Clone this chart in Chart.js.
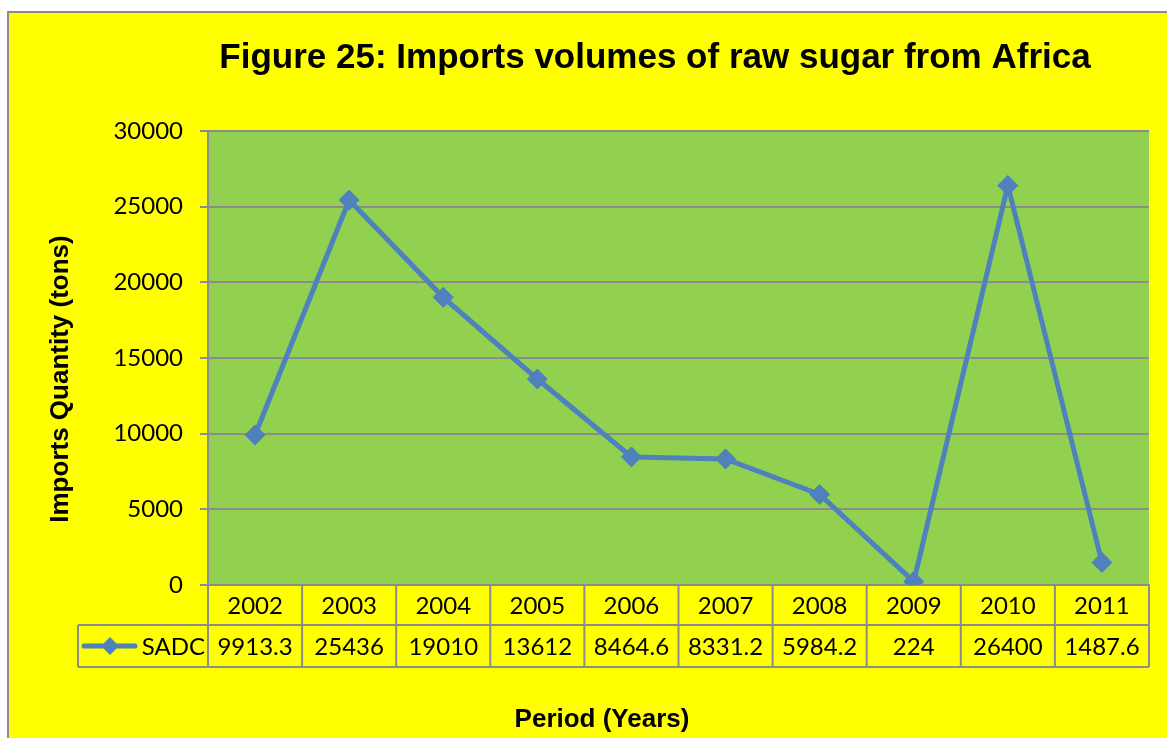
<!DOCTYPE html>
<html lang="en">
<head>
  <meta charset="UTF-8" />
  <title>Imports volumes of raw sugar from Africa</title>
  <script src="https://cdn.jsdelivr.net/npm/chart.js"></script>
  <style>
    html, body { margin: 0; padding: 0; background: #ffffff; overflow: hidden; }
    .frame {
      position: absolute; left: 7px; top: 11px;
      width: 1200px; height: 800px;
      background: #ffff00;
      border: 2px solid #8c8c8c;
    }
    #importsChart { position: absolute; left: 0; top: 0; }
  </style>
</head>
<body>
  <div class="frame"></div>
  <canvas id="importsChart" width="1167" height="738"></canvas>

  <script>
    // Data
    const years = ["2002", "2003", "2004", "2005", "2006", "2007", "2008", "2009", "2010", "2011"];
    const sadc = [9913.3, 25436, 19010, 13612, 8464.6, 8331.2, 5984.2, 224, 26400, 1487.6];
    const sadcLabels = ["9913.3", "25436", "19010", "13612", "8464.6", "8331.2", "5984.2", "224", "26400", "1487.6"];
    const seriesName = "SADC";

    const chartTitle = "Figure 25: Imports volumes of raw sugar from Africa";
    const yTitle = "Imports Quantity (tons)";
    const xTitle = "Period (Years)";

    const lineColor = "#4f81bd";
    const gridColor = "#8c8c8c";
    const tableFont = "24px Lato";

    // green plot background
    const plotBg = {
      id: "plotBg",
      beforeDraw(chart) {
        const { ctx, chartArea: a } = chart;
        ctx.save();
        ctx.fillStyle = "#92d050";
        ctx.fillRect(a.left, a.top, a.right - a.left, a.bottom - a.top);
        ctx.restore();
      }
    };

    // titles + data table under the x axis (Excel style)
    const dataTable = {
      id: "dataTable",
      afterDraw(chart) {
        const { ctx, chartArea: a } = chart;
        const x = chart.scales.x;
        const step = x.getPixelForValue(1) - x.getPixelForValue(0);
        const row1 = a.bottom + 40;
        const row2 = row1 + 42;
        const keyLeft = 78;

        ctx.save();
        // grid lines of the table
        ctx.strokeStyle = gridColor;
        ctx.lineWidth = 2;
        ctx.beginPath();
        ctx.moveTo(keyLeft, row1); ctx.lineTo(a.right, row1);
        ctx.moveTo(keyLeft, row2); ctx.lineTo(a.right, row2);
        ctx.moveTo(keyLeft, row1); ctx.lineTo(keyLeft, row2);
        for (let i = 0; i <= years.length; i++) {
          const bx = x.getPixelForValue(i) - step / 2;
          ctx.moveTo(bx, a.bottom); ctx.lineTo(bx, row2);
        }
        ctx.stroke();

        // cell text
        ctx.fillStyle = "#000";
        ctx.font = tableFont;
        ctx.textAlign = "center";
        ctx.textBaseline = "middle";
        years.forEach((yr, i) => {
          const cx = x.getPixelForValue(i);
          ctx.fillText(yr, cx, (a.bottom + row1) / 2 + 1);
          ctx.fillText(sadcLabels[i], cx, (row1 + row2) / 2 + 1);
        });

        // legend key
        const ky = (row1 + row2) / 2;
        ctx.strokeStyle = lineColor;
        ctx.lineWidth = 5;
        ctx.lineCap = "round";
        ctx.beginPath();
        ctx.moveTo(84, ky); ctx.lineTo(135, ky);
        ctx.stroke();
        ctx.fillStyle = lineColor;
        ctx.beginPath();
        ctx.moveTo(110 - 9, ky); ctx.lineTo(110, ky - 9);
        ctx.lineTo(110 + 9, ky); ctx.lineTo(110, ky + 9);
        ctx.closePath();
        ctx.fill();
        ctx.fillStyle = "#000";
        ctx.textAlign = "right";
        ctx.fillText(seriesName, a.left - 3, ky + 1);

        // titles
        ctx.textBaseline = "alphabetic";
        ctx.textAlign = "center";
        ctx.font = "bold 35px 'Liberation Sans', Arial";
        ctx.fillText(chartTitle, 655, 68);
        ctx.font = "bold 26px 'Liberation Sans', Arial";
        ctx.fillText(xTitle, 602, 727);
        ctx.translate(68, 379);
        ctx.rotate(-Math.PI / 2);
        ctx.fillText(yTitle, 0, 0);
        ctx.restore();
      }
    };

    new Chart(document.getElementById("importsChart"), {
      type: "line",
      data: {
        labels: years,
        datasets: [{
          label: seriesName,
          data: sadc,
          borderColor: lineColor,
          backgroundColor: lineColor,
          borderWidth: 5,
          tension: 0,
          pointStyle: "rectRot",
          pointRadius: 10,
          pointHoverRadius: 10,
          pointBorderWidth: 1,
          pointBackgroundColor: lineColor,
          pointBorderColor: lineColor
        }]
      },
      options: {
        responsive: false,
        animation: false,
        devicePixelRatio: 1,
        layout: { padding: { top: 131, right: 18, bottom: 0, left: 0 } },
        plugins: {
          legend: { display: false },
          title: { display: false },
          tooltip: { enabled: false }
        },
        scales: {
          x: {
            offset: true,
            afterFit(scale) { scale.height = 153; },
            ticks: { display: false },
            grid: { display: false },
            border: { display: true, color: gridColor, width: 2 }
          },
          y: {
            min: 0,
            max: 30000,
            afterFit(scale) { scale.width = 208; },
            ticks: {
              stepSize: 5000,
              padding: 17,
              color: "#000",
              font: { family: "Lato", size: 24 },
              callback: (v) => String(v)
            },
            grid: { color: gridColor, lineWidth: 2, tickLength: 8 },
            border: { display: true, color: gridColor, width: 2 }
          }
        }
      },
      plugins: [plotBg, dataTable]
    });
  </script>
</body>
</html>
